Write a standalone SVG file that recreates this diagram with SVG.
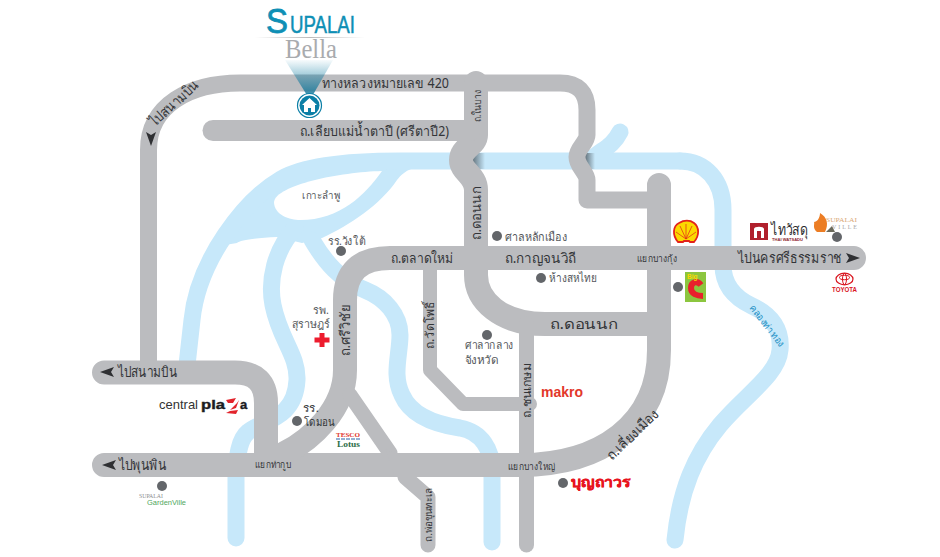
<svg xmlns="http://www.w3.org/2000/svg" width="940" height="557" viewBox="0 0 940 557">
<style>
text{font-family:"Noto Sans","Liberation Sans","DejaVu Sans",sans-serif;fill:#333538}
.river{fill:none;stroke:#c7e8fa;stroke-width:17;stroke-linecap:round;stroke-linejoin:round}
.road{fill:none;stroke:#bbbcbf;stroke-linecap:round;stroke-linejoin:round}
.w24{stroke-width:24}.w17{stroke-width:17}.w15{stroke-width:15}.w14{stroke-width:14}.w21{stroke-width:21}
.dot{fill:#63666a}
.arr{fill:#2f3033}
.g{fill:#55585c}
</style>
<defs>
<path id="ah" d="M0,0 L14,-5 L11,0 L14,5 Z"/>
<linearGradient id="beam" x1="0" y1="0" x2="0" y2="1"><stop offset="0" stop-color="#0b7fa6" stop-opacity="0.03"/><stop offset="1" stop-color="#0b6f92" stop-opacity="0.95"/></linearGradient>
<linearGradient id="hair" x1="0" y1="0" x2="1" y2="0"><stop offset="0" stop-color="#bbb" stop-opacity="0"/><stop offset=".5" stop-color="#bbb"/><stop offset="1" stop-color="#bbb" stop-opacity="0"/></linearGradient>
<linearGradient id="shade" x1="0" y1="0" x2="1" y2="0"><stop offset="0" stop-color="#55626a" stop-opacity=".9"/><stop offset="1" stop-color="#55626a" stop-opacity="0"/></linearGradient>
</defs>

<g id="rivers">
<path d="M282,172 L382,155 L420,160 L420,166 C405,170 401,175 397,180 C380,205 350,225 322,238 L302,243 L277,237 C255,238 240,240 237,243 L213,247 C225,225 255,185 282,172 Z" fill="#c7e8fa"/>
<path class="river" d="M680,161 L400,161 C350,161 305,165 281,179 C245,200 198,260 192,320 L187,365"/>
<path class="river" d="M680,161 C705,161 723,180 723,210 L723,265 C723,285 735,298 752,306 C772,315 782,330 780,350 C778,375 745,395 720,425 C695,455 680,490 675,540"/>
<path class="river" d="M620,132 C612,148 600,150 590,161"/>
<path class="river" d="M295,228 C275,250 268,280 273,305 C280,340 298,355 297,380 C295,420 262,420 248,432 C238,440 237,460 236,472 L236,538"/>
<path class="river" d="M312,240 C325,262 340,280 365,290 C385,298 400,315 400,335 C400,355 392,375 402,395 C412,418 440,425 460,428 C482,432 492,450 492,470 L492,542"/>
<path d="M382,171 C340,172 276,185 274,202 C274,215 290,220 300,220 C340,220 365,195 382,171 Z" fill="#fff"/>
<rect x="472" y="153" width="13" height="16" fill="url(#shade)"/>
<rect x="585" y="153" width="10" height="16" fill="url(#shade)"/>
</g>

<g id="connectors">
<path class="road w17" d="M148.500,365 L148.500,150 C148.500,105 190,83 240,83 L560,83 C578,83 587,92 587,110 L587,135 C587,143 577,148 577,157 C577,167 587,172 587,180 L587,200 L659,200"/>
<path class="road w24" d="M476,83 L476,135 C476,145 461,148 461,160 C461,172 476,175 476,190 L476,275 C476,300 500,324 545,324 L659,324"/>
<path class="road w21" d="M213,130.500 L470,130.500"/>
<path class="road w24" d="M659,185 L659,350 C659,425 600,465 520,465 L104,465"/>
<path class="road w24" d="M854,258 L390,258 Q345,258 345,300 L345,370 C345,410 310,440 285,453"/>
<path class="road w24" d="M104,372.500 L235,372.500 Q266,372.500 266,403 L266,460"/>
<path class="road w14" d="M430,262 L430,370 L463,404 L530,404"/>
<path class="road w15" d="M526.500,324 L526.500,545"/>
<path class="road w15" d="M350,395 L390,453 M405,477 L428,497 L428,545"/>
<path d="M385,448 L396,455 L420,477 L395,477 Z" fill="#bbbcbf"/>
</g>

<g id="node-supalai-bella">
<text x="266" y="33" font-size="35" textLength="22" lengthAdjust="spacingAndGlyphs" style="fill:#0e8fb5;stroke:#0e8fb5;stroke-width:.8;font-family:'Liberation Sans',sans-serif">S</text>
<text x="290" y="33" font-size="23" textLength="65" lengthAdjust="spacingAndGlyphs" style="fill:#0e8fb5;stroke:#0e8fb5;stroke-width:.5;font-family:'Liberation Sans',sans-serif">UPALAI</text>
<rect x="255" y="37" width="110" height="1" fill="url(#hair)"/>
<text x="285" y="58" font-size="27" textLength="52" lengthAdjust="spacingAndGlyphs" style="fill:#a9abae;font-family:'Liberation Serif',serif">Bella</text>
<polygon points="285,60 333,60 310,100" fill="url(#beam)"/>
<circle cx="309.500" cy="105.500" r="12" fill="#fff" stroke="#0b7fa6" stroke-width="1.200"/>
<circle cx="309.500" cy="105.500" r="10" fill="#0b7fa6"/>
<path d="M309.500,98 L317,105 L315,105 L315,112 L311,112 L311,108 L308,108 L308,112 L304,112 L304,105 L302,105 Z" fill="#fff"/>
</g>

<g id="road-labels">
<text x="322" y="88" font-size="14" textLength="127" lengthAdjust="spacingAndGlyphs">ทางหลวงหมายเลข 420</text>
<text x="300" y="136" font-size="14" textLength="149" lengthAdjust="spacingAndGlyphs">ถ.เลียบแม่น้ำตาปี (ศรีตาปี2)</text>
<text transform="translate(481,122) rotate(-90)" font-size="10.500" textLength="32" lengthAdjust="spacingAndGlyphs">ถ.ในบาง</text>
<text transform="translate(481,240) rotate(-90)" font-size="14" textLength="53" lengthAdjust="spacingAndGlyphs">ถ.ดอนนก</text>
<text x="391" y="263" font-size="14" textLength="62" lengthAdjust="spacingAndGlyphs">ถ.ตลาดใหม่</text>
<text x="505" y="263" font-size="14" textLength="71" lengthAdjust="spacingAndGlyphs">ถ.กาญจนวิถี</text>
<text x="637" y="262" font-size="9.500" textLength="40" lengthAdjust="spacingAndGlyphs">แยกบางกุ้ง</text>
<text x="738" y="263" font-size="14.500" textLength="104" lengthAdjust="spacingAndGlyphs">ไปนครศรีธรรมราช</text>
<text x="550" y="329" font-size="14" textLength="68" lengthAdjust="spacingAndGlyphs">ถ.ดอนนก</text>
<text transform="translate(350,356) rotate(-90)" font-size="14" textLength="51" lengthAdjust="spacingAndGlyphs">ถ.ศรีวิชัย</text>
<text transform="translate(434,349) rotate(-90)" font-size="12" textLength="47" lengthAdjust="spacingAndGlyphs">ถ.วัดโพธิ์</text>
<text transform="translate(531,418) rotate(-90)" font-size="12" textLength="55" lengthAdjust="spacingAndGlyphs">ถ.ชนเกษม</text>
<text transform="translate(612,461) rotate(-44)" font-size="14" textLength="66" lengthAdjust="spacingAndGlyphs">ถ.เลี่ยงเมือง</text>
<text x="508" y="470" font-size="9.500" textLength="47" lengthAdjust="spacingAndGlyphs">แยกบางใหญ่</text>
<text x="255" y="468" font-size="9.500" textLength="36" lengthAdjust="spacingAndGlyphs">แยกท่ากูบ</text>
<text transform="translate(432,542) rotate(-90)" font-size="9.500" textLength="54" lengthAdjust="spacingAndGlyphs">ถ.พ่อขุนทะเล</text>
<text x="118" y="377" font-size="14.500" textLength="59" lengthAdjust="spacingAndGlyphs">ไปสนามบิน</text>
<text x="119" y="470" font-size="14.500" textLength="47" lengthAdjust="spacingAndGlyphs">ไปพุนพิน</text>
<text transform="translate(155,127) rotate(-42)" font-size="14.500" textLength="60" lengthAdjust="spacingAndGlyphs">ไปสนามบิน</text>
<text transform="translate(749,308) rotate(52)" font-size="10" textLength="50" lengthAdjust="spacingAndGlyphs" style="fill:#1b8fc4">คลองท่าทอง</text>
<use href="#ah" class="arr" x="100" y="372"/>
<use href="#ah" class="arr" x="102" y="465"/>
<use href="#ah" class="arr" transform="translate(860,258) rotate(180)"/>
<use href="#ah" class="arr" transform="translate(151,146) rotate(-90)"/>
</g>

<g id="node-lak-mueang"><circle class="dot" cx="497" cy="236" r="5"/><text class="g" x="505" y="241" font-size="12" textLength="62" lengthAdjust="spacingAndGlyphs">ศาลหลักเมือง</text></g>
<g id="node-sahathai"><circle class="dot" cx="541" cy="278" r="5"/><text class="g" x="549" y="282" font-size="12" textLength="48" lengthAdjust="spacingAndGlyphs">ห้างสหไทย</text></g>
<g id="node-city-hall"><circle class="dot" cx="487" cy="335" r="5"/><text class="g" x="465" y="349" font-size="11" textLength="48" lengthAdjust="spacingAndGlyphs">ศาลากลาง</text><text class="g" x="465" y="364" font-size="11" textLength="33" lengthAdjust="spacingAndGlyphs">จังหวัด</text></g>
<g id="node-wang-tai"><circle class="dot" cx="341" cy="251" r="5"/><text class="g" x="328" y="245" font-size="11.500" textLength="37" lengthAdjust="spacingAndGlyphs">รร.วังใต้</text></g>
<g id="node-ko-lamphu"><text class="g" x="302" y="199" font-size="10.500" textLength="38" lengthAdjust="spacingAndGlyphs">เกาะลำพู</text></g>
<g id="node-surat-hospital">
<text class="g" x="313" y="314" font-size="11.500" textLength="16" lengthAdjust="spacingAndGlyphs">รพ.</text><text class="g" x="292" y="328" font-size="11.500" textLength="38" lengthAdjust="spacingAndGlyphs">สุราษฎร์</text>
<path d="M322,333 V347 M314.500,340 H329.500" stroke="#ed1c2e" stroke-width="5" fill="none"/>
</g>
<g id="node-domon"><circle class="dot" cx="297" cy="421" r="5"/><text x="303" y="412" font-size="11" textLength="16" lengthAdjust="spacingAndGlyphs">รร.</text><text x="304" y="426" font-size="11" textLength="31" lengthAdjust="spacingAndGlyphs">โดมอน</text></g>

<g id="node-shell">
<path d="M678,242 C672,235 673,226 679,223 C684,220 690,220 694,223 C699,227 700,235 694,242 L690,242 L689,241 L684,241 L683,242 Z" fill="#fbd800" stroke="#e2231a" stroke-width="1.800"/>
<path d="M686,239 V224 M686,239 L680,226 M686,239 L692,226 M686,239 L676,232 M686,239 L696,232" stroke="#e2231a" stroke-width=".7"/>
</g>
<g id="node-thaiwatsadu">
<rect x="750" y="223" width="18" height="17" fill="#b0202c"/>
<path d="M754,238 V229 C754,226 764,226 764,229 V238 H761 V231 H757 V238 Z" fill="#fff"/>
<text x="771" y="235" font-size="15" textLength="37" lengthAdjust="spacingAndGlyphs" style="fill:#2d2d2f">ไทวัสดุ</text>
<text x="772" y="241" font-size="4" font-weight="700" textLength="31" lengthAdjust="spacingAndGlyphs" style="fill:#8d2530;font-family:'Liberation Sans',sans-serif">THAI WATSADU</text>
</g>
<g id="node-supalai-ville">
<path d="M820,213 C827,217 829,224 825,232 L817,232 C812,228 815,224 814,222 C817,222 820,218 820,213 Z" fill="#ec7d24"/>
<path d="M826,232 L832,226 L835,232 Z" fill="#6a6a5c"/>
<text x="826" y="222" font-size="7" textLength="31" lengthAdjust="spacingAndGlyphs" style="fill:#d9a777;font-family:'Liberation Serif',serif">SUPALAI</text>
<text x="832" y="229" font-size="6" textLength="25" style="fill:#a8a8a8;font-family:'Liberation Serif',serif">VILLE</text>
<circle class="dot" cx="837" cy="237" r="5"/>
</g>
<g id="node-toyota">
<ellipse cx="844.500" cy="279" rx="8.500" ry="5.800" fill="none" stroke="#d9141e" stroke-width="1.200"/>
<ellipse cx="844.500" cy="277.500" rx="5" ry="2.200" fill="none" stroke="#d9141e"/>
<ellipse cx="844.500" cy="279" rx="2" ry="5.500" fill="none" stroke="#d9141e"/>
<text x="832" y="292" font-size="7" font-weight="700" textLength="25" lengthAdjust="spacingAndGlyphs" style="fill:#d9141e;font-family:'Liberation Sans',sans-serif">TOYOTA</text>
</g>
<g id="node-bigc">
<circle class="dot" cx="678" cy="287" r="5"/>
<rect x="685" y="272" width="21" height="30" fill="#8cc63f"/>
<path d="M701,285 C697,280 691,282 691,288 C691,294 697,296 703,296" fill="none" stroke="#e8202c" stroke-width="6"/>
<text x="687" y="279" font-size="6.500" font-weight="700" style="fill:#fbd800;font-family:'Liberation Sans',sans-serif">Big</text>
</g>
<g id="node-central-plaza">
<text x="159" y="409" font-size="13" textLength="39" lengthAdjust="spacingAndGlyphs" style="fill:#333;font-family:'Liberation Sans',sans-serif">central</text>
<text x="201" y="409" font-size="13" font-weight="700" textLength="24" lengthAdjust="spacingAndGlyphs" style="fill:#1c1c22;stroke:#1c1c22;stroke-width:.4;font-family:'Liberation Sans',sans-serif">pla</text>
<path d="M226,400 L236,398 L233,403 L228,403 Z M239,400 L236,408 L230,410 L237,403 Z M226,413 L236,414 L238,410 L230,411 Z" fill="#e2232b"/>
<text x="240" y="409" font-size="13" font-weight="700" style="fill:#1c1c22;stroke:#1c1c22;stroke-width:.4;font-family:'Liberation Sans',sans-serif">a</text>
</g>
<g id="node-tesco">
<text x="336" y="437" font-size="6.500" font-weight="700" textLength="24" lengthAdjust="spacingAndGlyphs" style="fill:#e0332a;font-family:'Liberation Serif',serif">TESCO</text>
<path d="M336,439 H360" stroke="#2a63a8" stroke-width="1" stroke-dasharray="4 1"/>
<text x="337" y="447" font-size="9" font-weight="700" textLength="23" lengthAdjust="spacingAndGlyphs" style="fill:#2c6e49;font-family:'Liberation Serif',serif">Lotus</text>
</g>
<g id="node-makro"><text x="541" y="397" font-size="15.500" font-weight="700" textLength="42" lengthAdjust="spacingAndGlyphs" style="fill:#e2382a;font-family:'Liberation Sans',sans-serif">makro</text></g>
<g id="node-boonthavorn"><circle class="dot" cx="563" cy="483" r="5"/><text x="571" y="487" font-size="14" font-weight="700" textLength="60" lengthAdjust="spacingAndGlyphs" style="fill:#e8141f;stroke:#e8141f;stroke-width:.5">บุญถาวร</text></g>
<g id="node-gardenville">
<circle class="dot" cx="162" cy="486" r="5"/>
<text x="139" y="498" font-size="6.500" textLength="24" lengthAdjust="spacingAndGlyphs" style="fill:#8b8d8f;font-family:'Liberation Serif',serif">SUPALAI</text>
<text x="147" y="505" font-size="8" textLength="39" lengthAdjust="spacingAndGlyphs" style="fill:#4fa760;font-family:'Liberation Sans',sans-serif">GardenVille</text>
</g>
</svg>
